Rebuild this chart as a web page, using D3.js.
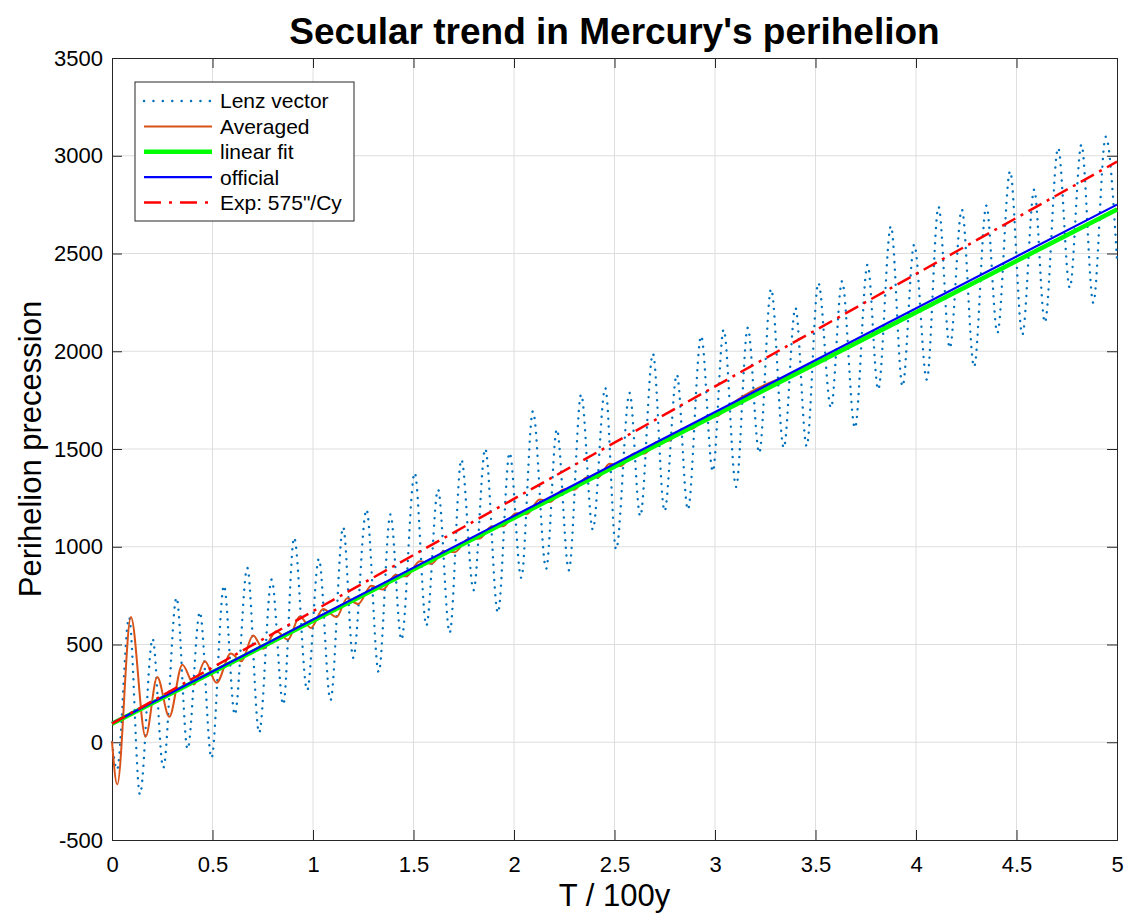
<!DOCTYPE html>
<html>
<head>
<meta charset="utf-8">
<script src="https://cdn.jsdelivr.net/npm/d3@7"></script>
<style>
  body { margin: 0; background: #fff; }
  text { font-family: "Liberation Sans", Arial, Helvetica, sans-serif; fill: #000; }
</style>
</head>
<body>
<div class="chart"></div>
<script>
const width = 1125;
const height = 915;
const margin = {top: 58, right: 8, bottom: 75, left: 112};

// x ticks / y ticks
const xTicks = [0, 0.5, 1, 1.5, 2, 2.5, 3, 3.5, 4, 4.5, 5];
const yTicks = [-500, 0, 500, 1000, 1500, 2000, 2500, 3000, 3500];

// Lenz vector: peaks and troughs
const lenzT = [0, 0.025, 0.085, 0.139, 0.202, 0.255, 0.321, 0.376, 0.437, 0.495,
  0.557, 0.611, 0.673, 0.732, 0.794, 0.852, 0.906, 0.971, 1.029, 1.087,
  1.15, 1.2, 1.266, 1.327, 1.385, 1.44, 1.506, 1.564, 1.622, 1.68,
  1.738, 1.799, 1.857, 1.92, 1.978, 2.036, 2.094, 2.16, 2.213, 2.273,
  2.334, 2.392, 2.454, 2.508, 2.575, 2.628, 2.691, 2.749, 2.81, 2.865,
  2.931, 2.989, 3.043, 3.105, 3.163, 3.22, 3.279, 3.342, 3.4, 3.456,
  3.514, 3.577, 3.632, 3.696, 3.759, 3.812, 3.875, 3.933, 3.991, 4.054,
  4.112, 4.168, 4.228, 4.289, 4.35, 4.405, 4.468, 4.529, 4.588, 4.641,
  4.707, 4.765, 4.823, 4.882, 4.944, 5.0];
const lenzV = [0, -140, 638, -267, 530, -131, 739, -34, 665, -80,
  801, 142, 892, 48, 832, 193, 1046, 266, 938, 215,
  1100, 432, 1190, 358, 1165, 525, 1378, 597, 1293, 560,
  1446, 778, 1501, 662, 1480, 841, 1693, 887, 1600, 880,
  1779, 1088, 1813, 986, 1787, 1156, 1988, 1182, 1881, 1190,
  2077, 1386, 2111, 1306, 2120, 1480, 2319, 1506, 2222, 1514,
  2350, 1711, 2358, 1608, 2443, 1804, 2640, 1821, 2546, 1855,
  2739, 2017, 2725, 1920, 2745, 2094, 2921, 2085, 2827, 2148,
  3040, 2324, 3057, 2248, 3097, 2469];

// Averaged
const avgT = [0, 0.026, 0.094, 0.167, 0.225, 0.285, 0.35, 0.408, 0.462, 0.52,
  0.591, 0.644, 0.702, 0.752, 0.818, 0.875, 0.934, 0.99, 1.05, 1.117,
  1.17, 1.224, 1.29, 1.348, 1.41, 1.465, 1.531, 1.59, 1.65, 1.705,
  1.77, 1.83, 1.887, 1.945, 2.01, 2.065, 2.127, 2.18, 2.245, 2.3,
  2.36, 2.42, 2.475, 2.53, 2.595, 2.65, 2.71, 2.77, 2.83, 2.89,
  2.95, 3.01, 3.07, 3.5, 4.0, 4.5, 5.0];
const avgV = [5, -216, 641, 28, 334, 130, 397, 295, 414, 304,
  454, 414, 546, 478, 568, 525, 643, 585, 682, 641,
  737, 707, 801, 781, 855, 849, 926, 913, 977, 972,
  1038, 1042, 1104, 1105, 1171, 1168, 1242, 1229, 1293, 1292,
  1354, 1355, 1424, 1413, 1476, 1477, 1536, 1542, 1596, 1605,
  1660, 1668, 1720, 1935, 2198, 2462, 2730];

// straight lines
const lineT = [0, 5];
const fitV = [95, 2725];
const officialV = [97, 2750];
const expV = [95, 2970];

const legendLabels = ['Lenz vector', 'Averaged', 'linear fit', 'official', 'Exp: 575"/Cy'];

const svg = d3
    .select('div.chart')
    .append('svg')
    .attr('width', width)
    .attr('height', height);

const x = d3.scaleLinear().domain([0, 5]).range([margin.left, width - margin.right]);
const y = d3.scaleLinear().domain([-500, 3500]).range([height - margin.bottom, margin.top]);

// grid
svg.append('g')
    .selectAll('line')
    .data(xTicks.slice(1, -1))
    .enter()
    .append('line')
    .attr('x1', (d) => x(d)).attr('x2', (d) => x(d))
    .attr('y1', y(-500)).attr('y2', y(3500))
    .attr('stroke', '#dedede');
svg.append('g')
    .selectAll('line')
    .data(yTicks.slice(1, -1))
    .enter()
    .append('line')
    .attr('y1', (d) => y(d)).attr('y2', (d) => y(d))
    .attr('x1', x(0)).attr('x2', x(5))
    .attr('stroke', '#dedede');

// axes (ticks inward, box on); plain hyphen for negatives like the original
const tickFmt = (d) => String(d);
const ax = svg.append('g').attr('class', 'axes');
ax.append('g')
    .attr('transform', `translate(0,${y(-500)})`)
    .call(d3.axisBottom(x).tickValues(xTicks).tickSize(-10).tickPadding(16).tickFormat(tickFmt));
ax.append('g')
    .attr('transform', `translate(0,${y(3500)})`)
    .call(d3.axisTop(x).tickValues(xTicks).tickSize(-10).tickFormat(''));
ax.append('g')
    .attr('transform', `translate(${x(0)},0)`)
    .call(d3.axisLeft(y).tickValues(yTicks).tickSize(-10).tickPadding(9).tickFormat(tickFmt));
ax.append('g')
    .attr('transform', `translate(${x(5)},0)`)
    .call(d3.axisRight(y).tickValues(yTicks).tickSize(-10).tickFormat(''));
ax.selectAll('.domain').attr('stroke', '#262626');
ax.selectAll('.tick line').attr('stroke', '#262626');
ax.selectAll('.tick text')
    .attr('font-size', '22px')
    .attr('fill', '#262626')
    .style('font-family', '"Liberation Sans", Arial, sans-serif');

// data lines
const pts = (ts, vs) => ts.map((t, i) => [t, vs[i]]);
const line = d3.line().x((d) => x(d[0])).y((d) => y(d[1]));
const plot = svg.append('g').attr('class', 'plot');

plot.append('path')
    .datum(pts(lenzT, lenzV))
    .attr('d', line.curve(d3.curveMonotoneX))
    .attr('fill', 'none')
    .attr('stroke', '#0072BD')
    .attr('stroke-width', 2.4)
    .attr('stroke-linecap', 'round')
    .attr('stroke-dasharray', '0.1,7.5');

plot.append('path')
    .datum(pts(avgT, avgV))
    .attr('d', line.curve(d3.curveMonotoneX))
    .attr('fill', 'none')
    .attr('stroke', '#D95319')
    .attr('stroke-width', 2);

line.curve(d3.curveLinear);
plot.append('path')
    .datum(pts(lineT, fitV))
    .attr('d', line)
    .attr('fill', 'none')
    .attr('stroke', '#00FF00')
    .attr('stroke-width', 4.5);
plot.append('path')
    .datum(pts(lineT, officialV))
    .attr('d', line)
    .attr('fill', 'none')
    .attr('stroke', '#0000FF')
    .attr('stroke-width', 2.2);
plot.append('path')
    .datum(pts(lineT, expV))
    .attr('d', line)
    .attr('fill', 'none')
    .attr('stroke', '#FF0000')
    .attr('stroke-width', 2.5)
    .attr('stroke-dasharray', '15,6,3,6');

// title and labels
svg.append('text')
    .attr('x', (x(0) + x(5)) / 2)
    .attr('y', 44)
    .attr('text-anchor', 'middle')
    .attr('font-size', '37px')
    .attr('font-weight', 'bold')
    .text("Secular trend in Mercury's perihelion");
svg.append('text')
    .attr('x', (x(0) + x(5)) / 2)
    .attr('y', 906)
    .attr('text-anchor', 'middle')
    .attr('font-size', '31px')
    .attr('fill', '#262626')
    .text('T / 100y');
svg.append('text')
    .attr('transform', `translate(41,${(y(-500) + y(3500)) / 2}) rotate(-90)`)
    .attr('text-anchor', 'middle')
    .attr('font-size', '31px')
    .attr('fill', '#262626')
    .text('Perihelion precession');

// legend
const legend = svg.append('g').attr('transform', 'translate(135,82)');
legend.append('rect')
    .attr('width', 219)
    .attr('height', 139)
    .attr('fill', '#fff')
    .attr('stroke', '#262626');
const styles = [
  {c: '#0072BD', w: 2.4, dash: '0.1,9.3', cap: 'round'},
  {c: '#D95319', w: 2, dash: null, cap: 'butt'},
  {c: '#00FF00', w: 4.5, dash: null, cap: 'butt'},
  {c: '#0000FF', w: 2.2, dash: null, cap: 'butt'},
  {c: '#FF0000', w: 2.5, dash: '17,8,3,8', cap: 'butt'}
];
const rows = legend.selectAll('g.row')
    .data(legendLabels)
    .enter()
    .append('g')
    .attr('class', 'row')
    .attr('transform', (d, i) => `translate(0,${19 + i * 25.4})`);
rows.append('line')
    .attr('x1', 9).attr('x2', 77)
    .attr('stroke', (d, i) => styles[i].c)
    .attr('stroke-width', (d, i) => styles[i].w)
    .attr('stroke-linecap', (d, i) => styles[i].cap)
    .attr('stroke-dasharray', (d, i) => styles[i].dash);
rows.append('text')
    .attr('x', 85)
    .attr('dy', '0.35em')
    .attr('font-size', '21px')
    .text((d) => d);
</script>
</body>
</html>
